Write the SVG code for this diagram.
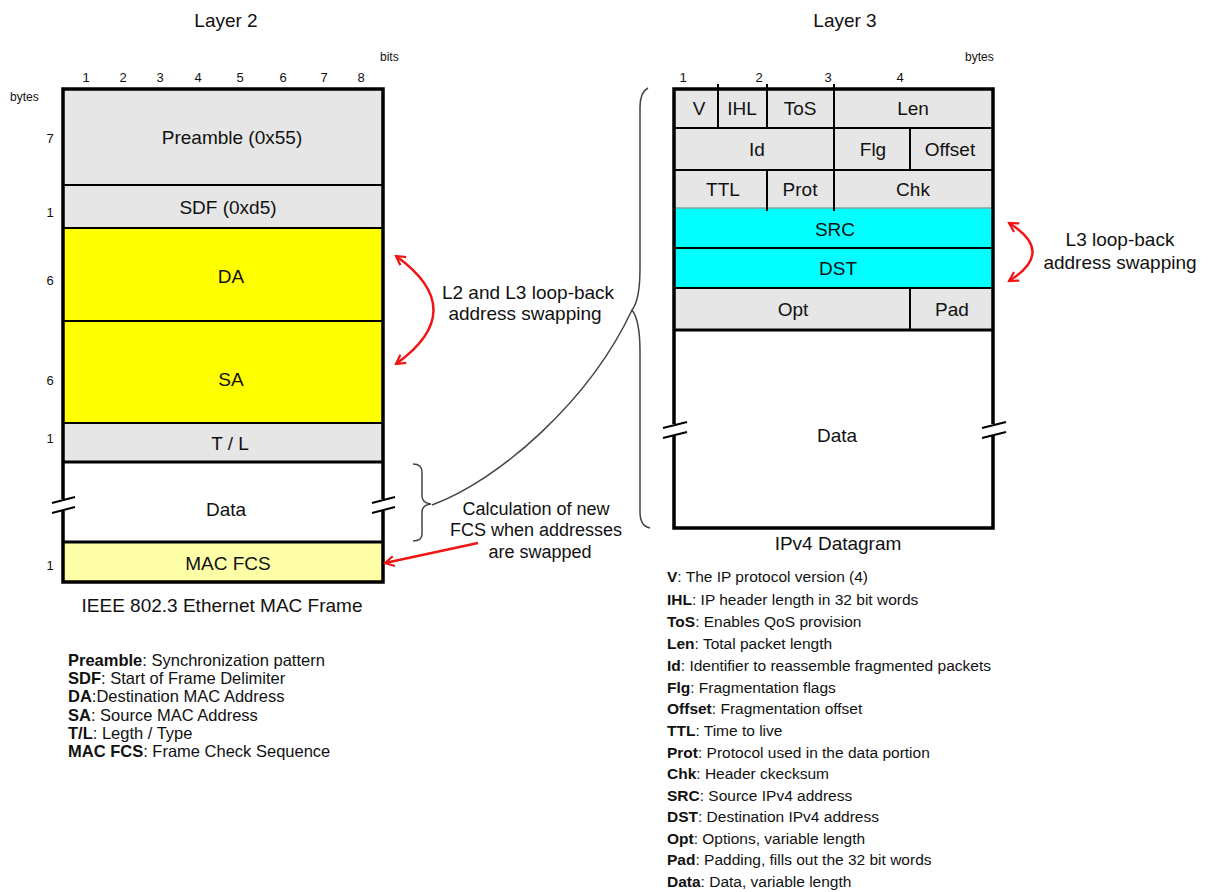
<svg xmlns="http://www.w3.org/2000/svg" width="1209" height="892" viewBox="0 0 1209 892">
<style>
text{font-family:"Liberation Sans",Arial,sans-serif;fill:#111}
.c{font-size:19px;text-anchor:middle}
.c2{font-size:18px;text-anchor:middle}
.n{font-size:13px;text-anchor:middle}
.s{font-size:12px}
.lg{font-size:15.5px}
.lg2{font-size:16.5px}
.b{font-weight:bold}
.gray{fill:#e6e6e6}
.frame{fill:none;stroke:#000;stroke-width:3.5}
.ln{stroke:#000;stroke-width:2}
.tk{stroke:#000;stroke-width:3}
.red{fill:none;stroke:#f01414;stroke-width:2.5}
.br{fill:none;stroke:#444;stroke-width:1.5}
</style>
<defs>
<marker id="ah" viewBox="0 0 12 12" refX="10" refY="6" markerWidth="12" markerHeight="12" markerUnits="userSpaceOnUse" orient="auto-start-reverse">
<path d="M1,1 L10,6 L1,11" fill="none" stroke="#f01414" stroke-width="2.2"/>
</marker>
</defs>

<text class="c" x="226" y="27">Layer 2</text>
<text class="c" x="845" y="27">Layer 3</text>

<!-- Layer 2 frame -->
<g id="l2-axis">
<text class="s" x="380" y="61">bits</text>
<text class="s" x="10" y="101">bytes</text>
<text class="n" x="86" y="82">1</text>
<text class="n" x="123" y="82">2</text>
<text class="n" x="160" y="82">3</text>
<text class="n" x="198" y="82">4</text>
<text class="n" x="240" y="82">5</text>
<text class="n" x="283" y="82">6</text>
<text class="n" x="324" y="82">7</text>
<text class="n" x="361" y="82">8</text>
<text class="n" x="50" y="143">7</text>
<text class="n" x="50" y="217">1</text>
<text class="n" x="50" y="285">6</text>
<text class="n" x="50" y="385">6</text>
<text class="n" x="50" y="443">1</text>
<text class="n" x="50" y="570">1</text>
</g>
<g id="preamble"><rect class="gray" x="63" y="89" width="320" height="96"/><text class="c" x="232" y="144">Preamble (0x55)</text></g>
<g id="sdf"><rect class="gray" x="63" y="185" width="320" height="43"/><text class="c" x="228" y="214">SDF (0xd5)</text></g>
<g id="da"><rect fill="#ffff00" x="63" y="228" width="320" height="93"/><text class="c" x="231" y="283">DA</text></g>
<g id="sa"><rect fill="#ffff00" x="63" y="321" width="320" height="102"/><text class="c" x="231" y="386">SA</text></g>
<g id="tl"><rect class="gray" x="63" y="423" width="320" height="39"/><text class="c" x="230" y="450">T / L</text></g>
<g id="l2data"><rect fill="#fff" x="63" y="462" width="320" height="80"/><text class="c" x="226" y="516">Data</text></g>
<g id="fcs"><rect fill="#ffffa8" x="63" y="542" width="320" height="40"/><text class="c" x="228" y="570">MAC FCS</text></g>
<g id="l2-lines">
<line class="ln" x1="63" y1="185" x2="383" y2="185"/>
<line class="ln" x1="63" y1="228" x2="383" y2="228"/>
<line class="ln" x1="63" y1="321" x2="383" y2="321"/>
<line class="ln" x1="63" y1="423" x2="383" y2="423"/>
<line class="tk" x1="63" y1="462" x2="383" y2="462"/>
<line class="tk" x1="63" y1="542" x2="383" y2="542"/>
<rect class="frame" x="63" y="89" width="320" height="493"/>
<rect fill="#fff" x="58" y="499" width="10" height="12"/>
<rect fill="#fff" x="378" y="499" width="10" height="12"/>
<line class="ln" x1="52" y1="503" x2="75" y2="497"/>
<line class="ln" x1="52" y1="513" x2="75" y2="507"/>
<line class="ln" x1="372" y1="503" x2="395" y2="497"/>
<line class="ln" x1="372" y1="513" x2="395" y2="507"/>
</g>
<text class="c" x="222" y="612">IEEE 802.3 Ethernet MAC Frame</text>

<!-- Layer 3 frame -->
<g id="l3-axis">
<text class="s" x="965" y="61">bytes</text>
<text class="n" x="683" y="82">1</text>
<text class="n" x="759" y="82">2</text>
<text class="n" x="828" y="82">3</text>
<text class="n" x="900" y="82">4</text>
</g>
<g id="hdr1"><rect class="gray" x="674" y="89" width="319" height="119"/>
<text class="c" x="699" y="115">V</text><text class="c" x="742" y="115">IHL</text><text class="c" x="800" y="115">ToS</text><text class="c" x="913" y="115">Len</text>
<text class="c" x="757" y="156">Id</text><text class="c" x="873" y="156">Flg</text><text class="c" x="950" y="156">Offset</text>
<text class="c" x="723" y="196">TTL</text><text class="c" x="800" y="196">Prot</text><text class="c" x="913" y="196">Chk</text>
</g>
<g id="src"><rect fill="#00ffff" x="674" y="208" width="319" height="40"/><text class="c" x="835" y="236">SRC</text></g>
<g id="dst"><rect fill="#00ffff" x="674" y="248" width="319" height="40"/><text class="c" x="838" y="275">DST</text></g>
<g id="opt"><rect class="gray" x="674" y="288" width="319" height="42"/><text class="c" x="793" y="316">Opt</text><text class="c" x="952" y="316">Pad</text></g>
<g id="l3data"><rect fill="#fff" x="674" y="330" width="319" height="198"/><text class="c" x="837" y="442">Data</text></g>
<g id="l3-lines">
<line class="ln" x1="674" y1="128" x2="993" y2="128"/>
<line class="ln" x1="674" y1="170" x2="993" y2="170"/>
<line x1="674" y1="208" x2="993" y2="208" stroke="#7a9" stroke-width="1.5"/>
<line class="ln" x1="674" y1="248" x2="993" y2="248"/>
<line class="ln" x1="674" y1="288" x2="993" y2="288"/>
<line class="tk" x1="674" y1="330" x2="993" y2="330"/>
<line class="ln" x1="718" y1="84" x2="718" y2="128"/>
<line class="ln" x1="767" y1="84" x2="767" y2="128"/>
<line class="ln" x1="767" y1="169" x2="767" y2="211"/>
<line class="ln" x1="834" y1="84" x2="834" y2="211"/>
<line class="ln" x1="910" y1="127" x2="910" y2="170"/>
<line class="ln" x1="910" y1="288" x2="910" y2="330"/>
<rect class="frame" x="674" y="89" width="319" height="439"/>
<rect fill="#fff" x="669" y="424" width="10" height="12"/>
<rect fill="#fff" x="988" y="424" width="10" height="12"/>
<line class="ln" x1="663" y1="428" x2="687" y2="422"/>
<line class="ln" x1="663" y1="438" x2="687" y2="432"/>
<line class="ln" x1="982" y1="428" x2="1006" y2="422"/>
<line class="ln" x1="982" y1="438" x2="1006" y2="432"/>
</g>
<text class="c" x="838" y="550">IPv4 Datagram</text>

<!-- connectors -->
<g id="connectors">
<path class="red" d="M396,256 Q471,310 396,364" marker-start="url(#ah)" marker-end="url(#ah)"/>
<path class="red" d="M1009,223 Q1056,252 1009,281" marker-start="url(#ah)" marker-end="url(#ah)"/>
<path class="red" d="M478,543 L385,563" marker-end="url(#ah)"/>
<path class="br" d="M413,464 Q422,464 422,472 L422,496 Q422,503 431,504 Q422,505 422,512 L422,534 Q422,541 413,541"/>
<path class="br" d="M648,88 Q640,92 640,107 L640,268 C640,295 636,305 632,310 C636,315 640,325 640,352 L640,512 Q640,526 650,528"/>
<path class="br" d="M432,505 C500,480 590,400 632,310"/>
</g>

<g id="annotations">
<text class="c" x="528" y="299">L2 and L3 loop-back</text>
<text class="c" x="525" y="320">address swapping</text>
<text class="c2" x="536" y="515">Calculation of new</text>
<text class="c2" x="536" y="536">FCS when addresses</text>
<text class="c2" x="540" y="558">are swapped</text>
<text class="c" x="1120" y="246">L3 loop-back</text>
<text class="c" x="1120" y="269">address swapping</text>
</g>

<g id="l2-legend" class="lg2">
<text x="68" y="666"><tspan class="b">Preamble</tspan>: Synchronization pattern</text>
<text x="68" y="684"><tspan class="b">SDF</tspan>: Start of Frame Delimiter</text>
<text x="68" y="702"><tspan class="b">DA</tspan>:Destination MAC Address</text>
<text x="68" y="721"><tspan class="b">SA</tspan>: Source MAC Address</text>
<text x="68" y="739"><tspan class="b">T/L</tspan>: Legth / Type</text>
<text x="68" y="757"><tspan class="b">MAC FCS</tspan>: Frame Check Sequence</text>
</g>
<g id="l3-legend" class="lg">
<text x="667" y="582"><tspan class="b">V</tspan>: The IP protocol version (4)</text>
<text x="667" y="605"><tspan class="b">IHL</tspan>: IP header length in 32 bit words</text>
<text x="667" y="627"><tspan class="b">ToS</tspan>: Enables QoS provision</text>
<text x="667" y="649"><tspan class="b">Len</tspan>: Total packet length</text>
<text x="667" y="671"><tspan class="b">Id</tspan>: Identifier to reassemble fragmented packets</text>
<text x="667" y="693"><tspan class="b">Flg</tspan>: Fragmentation flags</text>
<text x="667" y="714"><tspan class="b">Offset</tspan>: Fragmentation offset</text>
<text x="667" y="736"><tspan class="b">TTL</tspan>: Time to live</text>
<text x="667" y="758"><tspan class="b">Prot</tspan>: Protocol used in the data portion</text>
<text x="667" y="779"><tspan class="b">Chk</tspan>: Header ckecksum</text>
<text x="667" y="801"><tspan class="b">SRC</tspan>: Source IPv4 address</text>
<text x="667" y="822"><tspan class="b">DST</tspan>: Destination IPv4 address</text>
<text x="667" y="844"><tspan class="b">Opt</tspan>: Options, variable length</text>
<text x="667" y="865"><tspan class="b">Pad</tspan>: Padding, fills out the 32 bit words</text>
<text x="667" y="887"><tspan class="b">Data</tspan>: Data, variable length</text>
</g>
</svg>
